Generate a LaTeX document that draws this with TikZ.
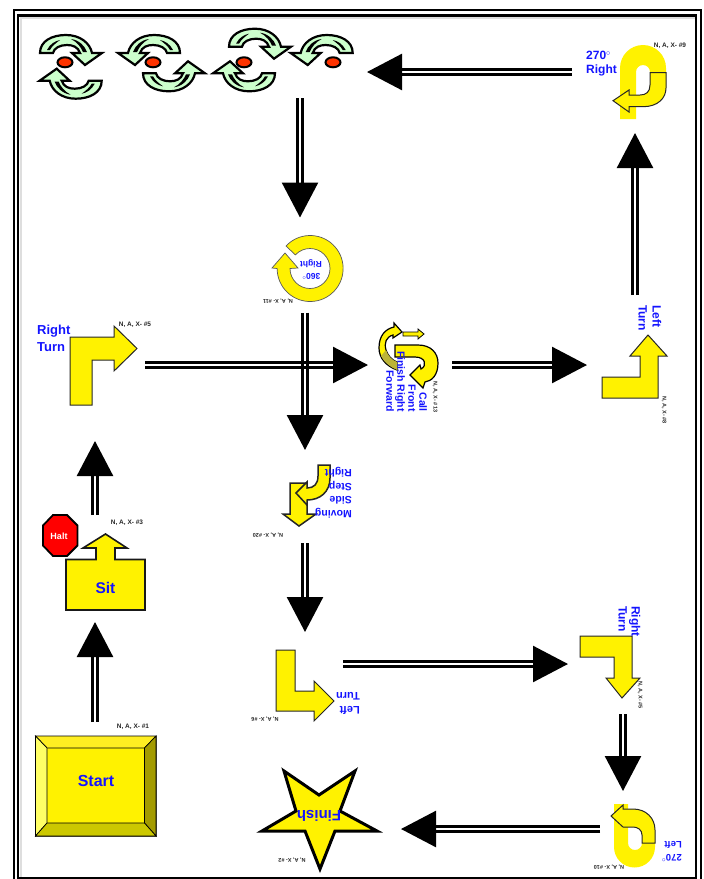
\documentclass[tikz,border=0pt]{standalone}
\usepackage{fontspec}
\setmainfont{Liberation Sans}
\usetikzlibrary{arrows.meta,shapes.geometric}

\definecolor{sayblue}{HTML}{1414FF}
\definecolor{mint}{HTML}{CCFFCC}
\definecolor{haltred}{HTML}{FF0000}
\definecolor{eyered}{HTML}{FF3300}
\definecolor{bevelleft}{HTML}{FFFF66}
\definecolor{beveltop}{HTML}{FFEE22}
\definecolor{bevelright}{HTML}{A39B00}
\definecolor{bevelbottom}{HTML}{CCC800}

\tikzset{
  spot/.style={inner sep=0pt,outer sep=0pt},
  flow/.style={line width=2.5pt,double,double distance=2.5pt,-{Triangle[length=35pt,width=36pt]}},
  icon/.style={fill=yellow,draw=black!85,line width=1pt,line join=miter},
  say/.style={text=sayblue,inner sep=0pt,font=\bfseries\fontsize{#1}{#1}\selectfont},
  tag/.style={inner sep=0pt,text=black!85,font=\bfseries\fontsize{6.5}{7.5}\selectfont},
  tinytag/.style={inner sep=0pt,text=black!85,font=\bfseries\fontsize{5.5}{6.5}\selectfont},
  eye/.style={ellipse,fill=eyered,draw=black,line width=2pt,minimum width=15pt,minimum height=10pt,inner sep=0pt},
  turnarc/.pic={
    \path[fill=mint,draw=black,line width=2.2pt,line join=miter]
      (-30,0) .. controls (-30,-12) and (-18,-18) .. (-4,-18)
      .. controls (10,-18) and (20,-10) .. (22,0) -- (32,0) -- (15,12) -- (2,0) -- (10,0)
      .. controls (8,-6) and (3,-8) .. (-3,-8)
      .. controls (-10,-8) and (-16,-5) .. (-17,0) -- cycle;
    \fill (1,-14) .. controls (9,-13) and (15,-7) .. (17,-1) -- (13,-1)
      .. controls (11,-6) and (7,-11) .. (1,-14) -- cycle;
    \fill (-23,-3) .. controls (-20,-9) and (-15,-12) .. (-10,-13)
      .. controls (-14,-10) and (-18,-7) .. (-20,-3) -- cycle;
  }
}

\begin{document}
\begin{tikzpicture}[x=1pt,y=-1pt]
  \useasboundingbox (0,0) rectangle (704,879);

  % frame
  \draw[black!13,line width=2pt] (20.5,878) -- (20.5,18) -- (695,18);
  \draw[line width=2.5pt] (14,10) rectangle (701,881);
  \draw[line width=2.5pt] (18,15.5) rectangle (696,878);

  % where the connectors end
  \node[spot,minimum width=120pt,minimum height=116pt] (start) at (95,780) {};
  \node[spot,minimum width=80pt,minimum height=107pt] (sit) at (95,568.5) {};
  \node[spot,minimum width=100pt,minimum height=152pt] (rightturn) at (95,365) {};
  \node[spot,minimum width=84pt,minimum height=80pt] (callfront) at (410,365) {};
  \node[spot,minimum width=96pt,minimum height=140pt] (leftturn) at (635,365) {};
  \node[spot,minimum width=126pt,minimum height=122pt] (rightuturn) at (635,72) {};
  \node[spot,minimum width=134pt,minimum height=52pt] (spins) at (300,72) {};
  \node[spot,minimum width=70pt,minimum height=95pt] (fullturn) at (305,265) {};
  \node[spot,minimum width=70pt,minimum height=93pt] (sidestep) at (305,496.5) {};
  \node[spot,minimum width=76pt,minimum height=64pt] (leftflip) at (305,664) {};
  \node[spot,minimum width=110pt,minimum height=100pt] (rightflip) at (623,664) {};
  \node[spot,minimum width=46pt,minimum height=76pt] (leftuturn) at (623,829) {};
  \node[spot,minimum width=162pt,minimum height=80pt] (finish) at (320,829) {};

  % start
  \draw[fill=yellow,draw=black!70,line width=.8pt] (35.5,736) rectangle (156,836);
  \draw[fill=beveltop,draw=black,line width=.7pt] (35.5,736) -- (156,736) -- (144.5,748) -- (47,748) -- cycle;
  \draw[fill=bevelleft,draw=black,line width=.7pt] (35.5,736) -- (47,748) -- (47,823) -- (35.5,836) -- cycle;
  \draw[fill=bevelright,draw=black,line width=.7pt] (156,736) -- (144.5,748) -- (144.5,823) -- (156,836) -- cycle;
  \draw[fill=bevelbottom,draw=black,line width=.7pt] (35.5,836) -- (47,823) -- (144.5,823) -- (156,836) -- cycle;
  \node[say=16] (starttext) at (96,780.5) {Start};
  \node[tag] (starttag) at (133,726.5) {N, A, X- \#1};

  % sit and halt
  \draw[fill=yellow,draw=black!90,line width=1.6pt] (66,610) -- (66,559.5) -- (96,559.5) -- (96,548) -- (83,548)
    -- (105.5,534) -- (127,548) -- (115,548) -- (115,559.5) -- (145,559.5) -- (145,610) -- cycle;
  \node[say=15.5] (sittext) at (105.5,587.5) {Sit};
  \node[tag] (sittag) at (127,523) {N, A, X- \#3};
  \draw[fill=haltred,draw=black,line width=1.8pt] (53,515) -- (67,515) -- (77.5,525.5) -- (77.5,545.5)
    -- (67,556) -- (53,556) -- (43,545.5) -- (43,525.5) -- cycle;
  \node[inner sep=0pt,text=white,font=\bfseries\fontsize{9}{9}\selectfont] (halttext) at (59,536) {Halt};

  % right turn
  \draw[icon] (70,405) -- (70,337) -- (114,337) -- (114,326) -- (137,348.5) -- (114,371) -- (114,360) -- (92,360) -- (92,405) -- cycle;
  \node[say=13,anchor=west,align=left,font=\bfseries\fontsize{13}{17}\selectfont] (rightturntext) at (37,338.5) {Right\\Turn};
  \node[tag] (rightturntag) at (135,325) {N, A, X- \#5};

  % call front, finish right, forward
  \draw[fill=yellow,draw=black,line width=1.2pt] (394,323) -- (402,332) -- (393,338) -- (393,335)
    .. controls (386,337) and (384,343) .. (386,350) .. controls (388,356) and (392,360) .. (397,362)
    -- (397,370) .. controls (386,366) and (379,358) .. (379,348) .. controls (379,336) and (385,329) .. (394,327) -- cycle;
  \fill[yellow!70!black] (386,350) .. controls (388,356) and (392,360) .. (397,362) -- (397,370) .. controls (390,367) and (384,362) .. (381,356) -- cycle;
  \draw[fill=yellow,draw=black,line width=.8pt] (403,332) -- (418,332) -- (418,329) -- (424,334) -- (418,339) -- (418,336) -- (403,336) -- cycle;
  \draw[fill=yellow,draw=black,line width=1.2pt] (395,345) -- (418,345) .. controls (431,345) and (438,353) .. (438,363)
    .. controls (438,375) and (432,381) .. (425,382) -- (423,388) -- (410,375) -- (420,365) -- (421,369)
    .. controls (427,366) and (426,357) .. (415,357) -- (395,357) -- cycle;
  \node[say=11,rotate=-90,anchor=east,align=right,font=\bfseries\fontsize{10.5}{11}\selectfont] (callfronttext) at (406.5,412) {Call\\Front\\Finish Right\\Forward};
  \node[tinytag,rotate=-90] (callfronttag) at (435,397) {N, A, X- \#13};

  % left turn
  \draw[icon] (602,377) -- (640,377) -- (640,356) -- (630,356) -- (648,335) -- (667,356) -- (658,356) -- (658,398) -- (602,398) -- cycle;
  \node[say=12,rotate=-90,anchor=west,align=left,font=\bfseries\fontsize{12}{14}\selectfont] (leftturntext) at (650,305) {Left\\Turn};
  \node[tinytag,rotate=-90] (leftturntag) at (664,410) {N, A, X- \#8};

  % 270 right
  \fill[yellow] (620,119) -- (620,68) arc (180:360:23) -- (666,73) -- (650,73) -- (650,72) arc (0:-180:7) -- (636,119) -- cycle;
  \draw[fill=yellow,draw=black!85,line width=1pt] (650,72.7) -- (650,85) .. controls (650,92) and (646,95) .. (640,95) -- (629,95) -- (629,90)
    -- (613,100.7) -- (629,112) -- (629,106.7) -- (643,106.7) .. controls (658,106.7) and (666,98) .. (666,88) -- (666,72.7) -- cycle;
  \node[say=12,anchor=west,align=left,font=\bfseries\fontsize{12}{14}\selectfont] (rightuturntext) at (586,64) {270$^{\circ}$\\Right};
  \node[tag] (rightuturntag) at (670,46) {N, A, X- \#9};

  % spins
  \pic at (70,53) {turnarc};
  \pic[xscale=-1,yscale=-1] at (71.7,80.7) {turnarc};
  \node[eye] (eyeone) at (65,62.3) {};
  \pic[xscale=-1] at (150,53) {turnarc};
  \pic[yscale=-1] at (173,73.3) {turnarc};
  \node[eye] (eyetwo) at (153,62.3) {};
  \pic at (259,46.7) {turnarc};
  \pic[xscale=-1,yscale=-1] at (245,73.3) {turnarc};
  \node[eye] (eyethree) at (244,62.3) {};
  \pic[xscale=-1] at (322.7,53) {turnarc};
  \node[eye] (eyefour) at (333,62.3) {};

  % 360
  \draw[fill=yellow,draw=black!65,line width=.7pt] (286,246) arc (-137:180:33) -- (272,268) -- (285,253) -- (298,268) -- (290,268.5) arc (180:-137:20) -- cycle;
  \node[say=8.5,rotate=180,align=center,font=\bfseries\fontsize{8.5}{12.5}\selectfont] (fullturntext) at (311,269.5) {360$^{\circ}$\\Right};
  \node[tinytag,rotate=180] (fullturntag) at (278,301) {N, A, X- \#11};

  % moving side step
  \draw[fill=yellow,draw=black!85,line width=1.5pt] (290,483) -- (307,483) -- (307,514) -- (316,514) -- (299,526) -- (283,514) -- (290,514) -- cycle;
  \draw[fill=yellow,draw=black!85,line width=1.5pt] (318,465) -- (330,465) -- (330,478) .. controls (330,492) and (320,500) .. (307,500) -- (307,505)
    -- (296,493) -- (307,482) -- (307,488) .. controls (314,488) and (318,484) .. (318,476) -- cycle;
  \node[say=10.5,rotate=180,anchor=west,align=left,font=\bfseries\fontsize{10.5}{13.5}\selectfont] (sidesteptext) at (352,492.5) {Moving\\Side\\Step\\Right};
  \node[tinytag,rotate=180] (sidesteptag) at (268,535) {N, A, X- \#20};

  % left turn, upside down
  \draw[icon] (276,650) -- (295,650) -- (295,691) -- (314,691) -- (314,681) -- (334,701) -- (314,721) -- (314,711) -- (276,711) -- cycle;
  \node[say=11,rotate=180,anchor=west,align=left,font=\bfseries\fontsize{11}{14}\selectfont] (leftfliptext) at (360,703) {Left\\Turn};
  \node[tinytag,rotate=180] (leftfliptag) at (265,719) {N, A, X- \#6};

  % right turn, upside down
  \draw[icon] (580,636) -- (632,636) -- (632,678) -- (640,678) -- (622,698) -- (606,678) -- (614,678) -- (614,657) -- (580,657) -- cycle;
  \node[say=12,rotate=-90,anchor=west,align=left,font=\bfseries\fontsize{12}{13}\selectfont] (rightfliptext) at (629.5,606) {Right\\Turn};
  \node[tinytag,rotate=-90] (rightfliptag) at (640,695) {N, A, X- \#5};

  % 270 left
  \fill[yellow] (614,804) -- (614,847) arc (180:0:20.5) -- (655,843) -- (642,843) arc (0:180:7) -- (628,804) -- cycle;
  \draw[fill=yellow,draw=black!85,line width=1pt] (642,843) -- (642,835) .. controls (642,830) and (638,827) .. (633,827) -- (623,827)
    -- (611,816) -- (623,805) -- (623,809) -- (633,809) .. controls (646,809) and (655,818) .. (655,830) -- (655,843) -- cycle;
  \node[say=9.5,rotate=180,anchor=west,align=left,font=\bfseries\fontsize{9.5}{13}\selectfont] (leftuturntext) at (682,851.5) {270$^{\circ}$\\Left};
  \node[tinytag,rotate=180] (leftuturntag) at (609,867) {N, A, X- \#10};

  % finish
  \draw[fill=yellow,draw=black,line width=3pt,line join=miter] (284,771) -- (319,795) -- (355,771) -- (340,811) -- (377,831) -- (335,831)
    -- (320,869) -- (305,831) -- (262,831) -- (296,811) -- cycle;
  \node[say=15,rotate=180] (finishtext) at (319,816) {Finish};
  \node[tinytag,rotate=180] (finishtag) at (292,860) {N, A, X- \#2};

  % connectors
  \draw[flow] (start.north) -- (sit.south);
  \draw[flow] (sit.north) -- (rightturn.south);
  \draw[flow] (rightturn.east) -- (callfront.west);
  \draw[flow] (callfront.east) -- (leftturn.west);
  \draw[flow] (leftturn.north) -- (rightuturn.south);
  \draw[flow] (rightuturn.west) -- (spins.east);
  \draw[flow] (spins.south) -- (spins.south |- fullturn.north);
  \draw[flow] (fullturn.south) -- (sidestep.north);
  \draw[flow] (sidestep.south) -- (leftflip.north);
  \draw[flow] (leftflip.east) -- (rightflip.west);
  \draw[flow] (rightflip.south) -- (leftuturn.north);
  \draw[flow] (leftuturn.west) -- (finish.east);
  \node[draw=black,fill=white,line width=2.5pt,inner sep=0pt,minimum size=5pt] (crossing) at (sidestep.north |- rightturn.east) {};
\end{tikzpicture}
\end{document}
